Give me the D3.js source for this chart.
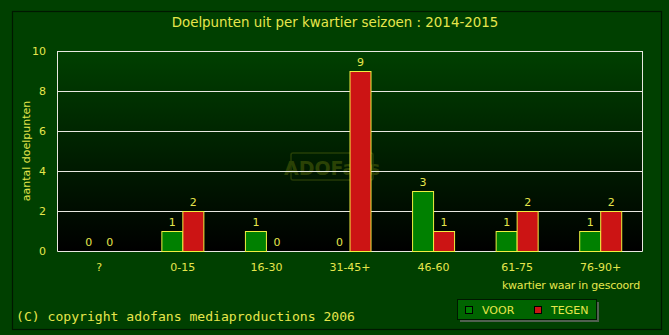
<!DOCTYPE html>
<html><head><meta charset="utf-8">
<script src="https://cdn.jsdelivr.net/npm/d3@7/dist/d3.min.js"></script>
<style>body{margin:0;background:#004000;}svg{display:block;}</style>
</head><body>
<script>
const categories = ["?", "0-15", "16-30", "31-45+", "46-60", "61-75", "76-90+"];
const voor = [0, 1, 1, 0, 3, 1, 1];
const tegen = [0, 2, 0, 9, 1, 2, 2];
const yTicks = [0, 2, 4, 6, 8, 10];
const seriesNames = ["VOOR", "TEGEN"];

const W = 669, H = 335;
const txt = "#e6e64c";
const svg = d3.select("body").append("svg").attr("width", W).attr("height", H);
svg.append("rect").attr("width", W).attr("height", H).attr("fill", "#004000");
svg.append("rect").attr("x", 12.5).attr("y", 11.5).attr("width", 649).attr("height", 318)
  .attr("fill", "#004000").attr("stroke", "#001800").attr("stroke-width", 1.2);

const defs = svg.append("defs");
const g = defs.append("linearGradient").attr("id", "bg").attr("x1", 0).attr("y1", 0).attr("x2", 0).attr("y2", 1);
g.append("stop").attr("offset", 0).attr("stop-color", "#004000");
g.append("stop").attr("offset", 1).attr("stop-color", "#000000");

const L = 57, R = 642, T = 51, B = 251;
const x = d3.scaleBand().domain(categories).range([L, R]);
const y = d3.scaleLinear().domain([0, 10]).range([B, T]);

svg.append("rect").attr("x", L).attr("y", T).attr("width", R - L).attr("height", B - T).attr("fill", "url(#bg)");

// watermark
const wm = svg.append("g").attr("opacity", 0.35);
wm.append("rect").attr("x", 291).attr("y", 153).attr("width", 82).attr("height", 27).attr("rx", 2)
  .attr("fill", "none").attr("stroke", "#6a7a10").attr("stroke-width", 1.5);
wm.append("text").attr("x", 332).attr("y", 175).attr("text-anchor", "middle")
  .attr("font-family", "DejaVu Sans").attr("font-weight", "bold").attr("font-size", 19)
  .attr("fill", "#7a8a10").text("ADOFans");

// gridlines
svg.append("g").selectAll("line").data(yTicks.filter(d => d > 0)).join("line")
  .attr("x1", L).attr("x2", R).attr("y1", d => y(d) + 0.5).attr("y2", d => y(d) + 0.5)
  .attr("stroke", "#e8e8e0").attr("stroke-width", 1);
// frame
svg.append("path").attr("d", `M${L + 0.5},${T} V${B + 0.5} H${R + 0.5} V${T}`)
  .attr("fill", "none").attr("stroke", "#e8e8e0").attr("stroke-width", 1);

// y tick labels
svg.append("g").selectAll("text").data(yTicks).join("text")
  .attr("x", 46).attr("y", d => y(d) + 4).attr("text-anchor", "end")
  .attr("font-family", "DejaVu Sans").attr("font-size", 11).attr("fill", txt).text(d => d);

// bars
const bw = 21;
const series = [{vals: voor, color: "#008000", off: -bw}, {vals: tegen, color: "#cc1414", off: 0}];
series.forEach(s => {
  const gg = svg.append("g");
  gg.selectAll("rect").data(categories.map((c, i) => ({c, v: s.vals[i]})).filter(d => d.v > 0)).join("rect")
    .attr("x", d => x(d.c) + x.bandwidth() / 2 + s.off + 0.5)
    .attr("y", d => y(d.v) + 0.5)
    .attr("width", bw).attr("height", d => B - y(d.v))
    .attr("fill", s.color).attr("stroke", "#f0f040").attr("stroke-width", 1);
  gg.selectAll("text").data(categories.map((c, i) => ({c, v: s.vals[i]}))).join("text")
    .attr("x", d => x(d.c) + x.bandwidth() / 2 + s.off + bw / 2 + 0.5)
    .attr("y", d => y(d.v) - 5)
    .attr("text-anchor", "middle").attr("font-family", "DejaVu Sans").attr("font-size", 11)
    .attr("fill", txt).text(d => d.v);
});

// x labels
svg.append("g").selectAll("text").data(categories).join("text")
  .attr("x", d => x(d) + x.bandwidth() / 2 + 0.5).attr("y", 271).attr("text-anchor", "middle")
  .attr("font-family", "DejaVu Sans").attr("font-size", 11).attr("fill", txt).text(d => d);

// title
svg.append("text").attr("x", 335).attr("y", 27).attr("text-anchor", "middle")
  .attr("font-family", "DejaVu Sans").attr("font-size", 13.4).attr("fill", txt)
  .text("Doelpunten uit per kwartier seizoen : 2014-2015");

// axis titles
svg.append("text").attr("transform", "translate(30,151) rotate(-90)").attr("text-anchor", "middle")
  .attr("font-family", "DejaVu Sans").attr("font-size", 11).attr("fill", txt).text("aantal doelpunten");
svg.append("text").attr("x", 640).attr("y", 289).attr("text-anchor", "end")
  .attr("font-family", "DejaVu Sans").attr("font-size", 11).attr("letter-spacing", -0.2).attr("fill", txt)
  .text("kwartier waar in gescoord");

// copyright
svg.append("text").attr("x", 16).attr("y", 321)
  .attr("font-family", "DejaVu Sans Mono").attr("font-size", 13.1).attr("fill", txt)
  .text("(C) copyright adofans mediaproductions 2006");

// legend
svg.append("rect").attr("x", 460).attr("y", 302).attr("width", 139).attr("height", 20).attr("fill", "#506050");
svg.append("rect").attr("x", 457.5).attr("y", 299.5).attr("width", 139).attr("height", 20)
  .attr("fill", "#006400").attr("stroke", "#001800").attr("stroke-width", 1);
const lg = svg.append("g");
lg.selectAll("rect").data(seriesNames).join("rect")
  .attr("x", (d, i) => 465.5 + i * 69).attr("y", 306.5).attr("width", 7).attr("height", 7)
  .attr("fill", (d, i) => i === 0 ? "#008000" : "#cc1414").attr("stroke", "#000").attr("stroke-width", 1);
lg.selectAll("text").data(seriesNames).join("text")
  .attr("x", (d, i) => 482 + i * 69).attr("y", 314)
  .attr("font-family", "DejaVu Sans").attr("font-size", 11).attr("fill", txt).text(d => d);
</script>
</body></html>
